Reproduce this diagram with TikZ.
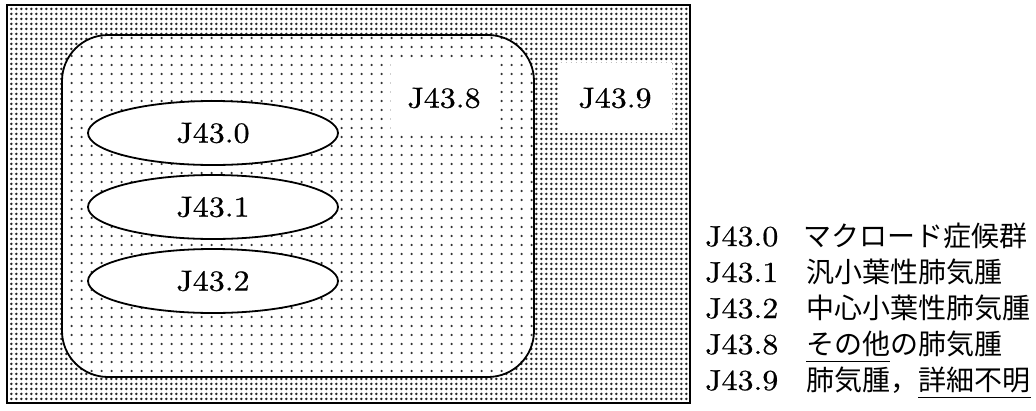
\documentclass[tikz,border=0pt]{standalone}
\usepackage{fontspec}
\newfontfamily\jpfont{Noto Sans CJK JP}
\newfontfamily\codefont[FakeStretch=1.1,FakeBold=0.6]{lmroman10-regular.otf}
\usetikzlibrary{patterns.meta,shapes.geometric}

% dense dot screen for the outer field
\pgfdeclarepattern{
  name=densedots,
  type=uncolored,
  bottom left={\pgfpoint{0pt}{0pt}},
  top right={\pgfpoint{4.8pt}{4.6pt}},
  tile size={\pgfpoint{4.8pt}{4.6pt}},
  code={\pgfpathcircle{\pgfpoint{2.4pt}{2.3pt}}{1.5pt}\pgfusepath{fill}}
}
% sparse dot screen for the inner group
\pgfdeclarepattern{
  name=sparsedots,
  type=uncolored,
  bottom left={\pgfpoint{0pt}{0pt}},
  top right={\pgfpoint{9.6pt}{9pt}},
  tile size={\pgfpoint{9.6pt}{9pt}},
  code={\pgfpathcircle{\pgfpoint{4.8pt}{4.5pt}}{1.35pt}\pgfusepath{fill}}
}

\begin{document}
\begin{tikzpicture}[x=1pt,y=-1pt,
  codetext/.style={font=\fontsize{29}{34}\codefont},
  frame/.style={draw, line width=1.8pt, inner sep=0pt,
    pattern=densedots, pattern color=black!85},
  group/.style={draw, line width=1.8pt, inner sep=0pt, rounded corners=46pt,
    preaction={fill=white}, pattern=sparsedots, pattern color=black!80},
  subtype/.style={ellipse, draw, line width=1.8pt, fill=white, inner sep=0pt,
    minimum width=250pt, minimum height=64pt, codetext},
  plainbox/.style={rectangle, fill=white, inner sep=0pt, codetext},
  code/.style={inner sep=0pt, anchor=base west, codetext},
  term/.style={inner sep=0pt, anchor=base west,
    font=\fontsize{28}{34}\selectfont\jpfont},
  uline/.style={line width=1.6pt}
]
\useasboundingbox (0,0) rectangle (1036,410);

% outer field and the rounded group inside it
\node[frame, minimum width=683pt, minimum height=398pt] (field) at (348.5,204) {};
\node[group, minimum width=472pt, minimum height=342pt] (grp) at (298,206) {};

% unscreened label areas
\node[plainbox, minimum width=107pt, minimum height=70pt] (b8) at (444,98) {J43.8};
\node[plainbox, minimum width=114pt, minimum height=70pt] (b9) at (615,98) {J43.9};

% subtypes
\node[subtype] (e0) at (213,133) {J43.0};
\node[subtype] (e1) at (213,207) {J43.1};
\node[subtype] (e2) at (213,281) {J43.2};

% legend
\node[code] (k0) at (705,246) {J43.0};
\node[code] (k1) at (705,282) {J43.1};
\node[code] (k2) at (705,318) {J43.2};
\node[code] (k8) at (705,354) {J43.8};
\node[code] (k9) at (705,390) {J43.9};

\node[term] (t0) at (803,246) {マクロード症候群};
\node[term] (t1) at (806,282) {汎小葉性肺気腫};
\node[term] (t2) at (806,318) {中心小葉性肺気腫};
\node[term] (t8a) at (806,354) {その他};
\node[term] (t8b) at (t8a.base east) {の肺気腫};
\node[term] (t9a) at (806,390) {肺気腫，};
\node[term] (t9b) at (t9a.base east) {詳細不明};

\draw[uline] ([yshift=-7.5pt]t8a.base west) -- ([yshift=-7.5pt]t8a.base east);
\draw[uline] ([yshift=-7.5pt]t9b.base west) -- ([yshift=-7.5pt]t9b.base east);
\end{tikzpicture}
\end{document}
